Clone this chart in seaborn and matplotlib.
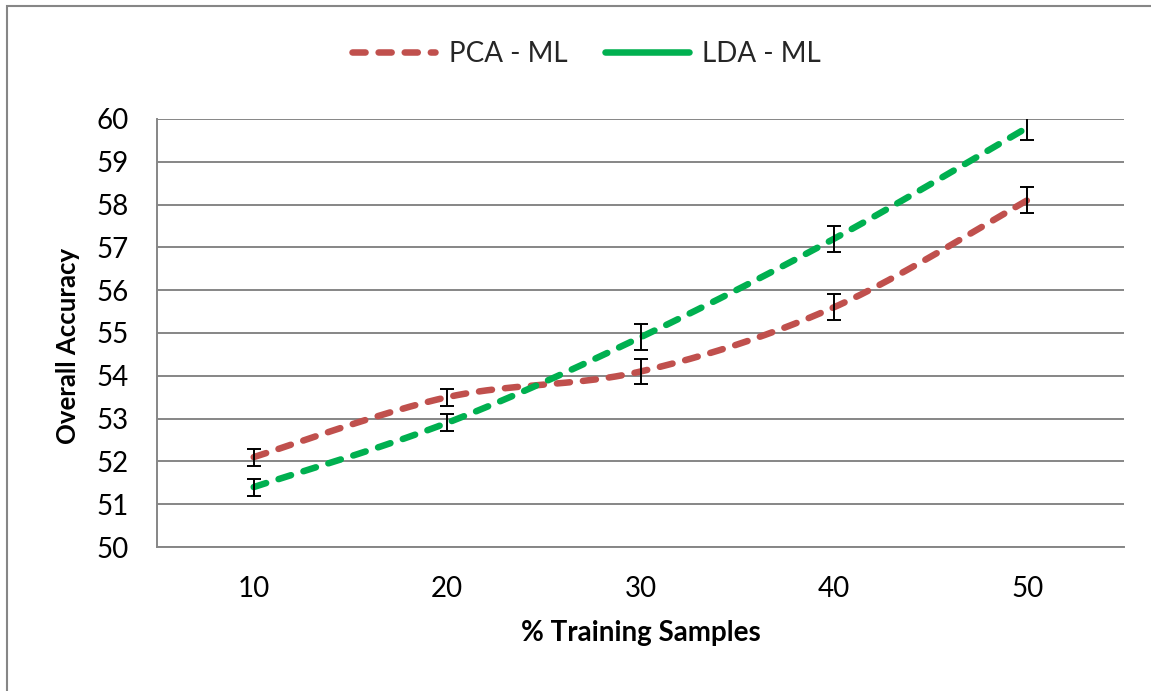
import numpy as np
import pandas as pd
import matplotlib
matplotlib.use("Agg")
import matplotlib.pyplot as plt
import seaborn as sns
from matplotlib.lines import Line2D
from matplotlib.patches import Rectangle
from matplotlib.ticker import FixedLocator

# Chart data
training_pct = ["10", "20", "30", "40", "50"]
pca_ml = [52.1, 53.5, 54.1, 55.6, 58.1]
lda_ml = [51.4, 52.9, 54.9, 57.2, 59.8]
pca_err = [0.2, 0.2, 0.3, 0.3, 0.3]
lda_err = [0.2, 0.2, 0.3, 0.3, 0.3]
series_names = ["PCA - ML", "LDA - ML"]
y_ticks = list(range(50, 61))

RED = "#C0504D"
GREEN = "#00B050"
GRAY = "#868686"
FS = 20


def smooth_curve(xs, ys, n=40):
    """Cubic Bezier smoothing through the points (spreadsheet-style smoothed line)."""
    pts = np.column_stack([xs, ys]).astype(float)
    padded = np.vstack([pts[0], pts, pts[-1]])
    t = np.linspace(0, 1, n)[:, None]
    out = []
    for i in range(len(pts) - 1):
        p0, p3 = padded[i + 1], padded[i + 2]
        c1 = p0 + (padded[i + 2] - padded[i]) / 6
        c2 = p3 - (padded[i + 3] - padded[i + 1]) / 6
        seg = (1 - t) ** 3 * p0 + 3 * (1 - t) ** 2 * t * c1 + 3 * (1 - t) * t ** 2 * c2 + t ** 3 * p3
        out.append(seg if i == 0 else seg[1:])
    out = np.vstack(out)
    return out[:, 0], out[:, 1]


sns.set_theme(style="white")
plt.rcParams["font.family"] = ["Lato", "DejaVu Sans"]

fig = plt.figure(figsize=(11.51, 6.91), dpi=100)
ax = fig.add_axes([157 / 1151, 1 - 547 / 691, (1124 - 157) / 1151, (547 - 119) / 691])

xpos = np.arange(len(training_pct))
frames = []
for name, vals in zip(series_names, [pca_ml, lda_ml]):
    sx, sy = smooth_curve(xpos, vals)
    frames.append(pd.DataFrame({"x": sx, "y": sy, "series": name}))
curves = pd.concat(frames, ignore_index=True)

sns.lineplot(data=curves, x="x", y="y", hue="series", style="series",
             palette={"PCA - ML": RED, "LDA - ML": GREEN},
             dashes={"PCA - ML": (2, 2), "LDA - ML": (2, 2)},
             linewidth=4.7, estimator=None, sort=False, legend=False, ax=ax, zorder=2)
for line in ax.lines:
    line.set_dash_capstyle("round")
    line.set_solid_capstyle("round")

for vals, err in [(pca_ml, pca_err), (lda_ml, lda_err)]:
    ax.errorbar(xpos, vals, yerr=err, fmt="none", ecolor="black",
                elinewidth=1.4, capsize=5, capthick=1.4, zorder=3)

ax.set_xlim(-0.5, len(training_pct) - 0.5)
ax.set_ylim(50, 60)
ax.set_yticks(y_ticks)
ax.set_xticks(xpos)
ax.set_xticklabels(training_pct)
ax.xaxis.set_minor_locator(FixedLocator(np.arange(-0.5, len(training_pct), 1.0)))

ax.grid(axis="y", color=GRAY, linewidth=1.4)
ax.set_axisbelow(True)
for side in ["top", "right"]:
    ax.spines[side].set_visible(False)
for side in ["left", "bottom"]:
    ax.spines[side].set_color(GRAY)
    ax.spines[side].set_linewidth(1.4)

ax.tick_params(axis="x", which="major", length=0, pad=21, labelsize=FS, labelcolor="black")
ax.tick_params(axis="x", which="minor", length=6.5, width=1.4, color=GRAY, direction="out")
ax.tick_params(axis="y", which="major", length=7.5, width=1.4, color=GRAY, direction="out",
               pad=13, labelsize=FS, labelcolor="black")

ax.set_xlabel("% Training Samples", fontsize=FS, fontweight="bold", color="black")
ax.set_ylabel("Overall Accuracy", fontsize=18.5, fontweight="bold", color="black")
ax.xaxis.set_label_coords(0.5, -0.17)
ax.yaxis.set_label_coords(-0.08, 0.47)

handles = [
    Line2D([], [], color=RED, linewidth=4.7, dashes=(2, 2), dash_capstyle="round"),
    Line2D([], [], color=GREEN, linewidth=4.7, solid_capstyle="round"),
]
fig.legend(handles, series_names, loc="center", bbox_to_anchor=(586.5 / 1151, 1 - 54 / 691), ncol=2,
           frameon=False, fontsize=FS, handlelength=3.0, handletextpad=0.5, columnspacing=1.35)

fig.patches.append(Rectangle((7 / 1151, -0.1), 1.2, 1.1 - 5.5 / 691,
                             transform=fig.transFigure, fill=False,
                             edgecolor=GRAY, linewidth=1.5, clip_on=False))

fig.savefig("out.png", dpi=100)
